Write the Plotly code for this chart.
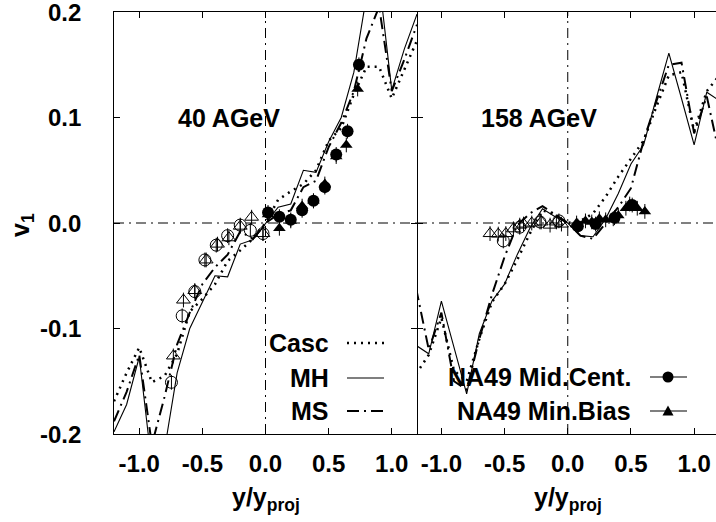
import plotly.graph_objects as go

# ---------------- data ----------------
x_grid = [-1.2, -1.1, -1.0, -0.9, -0.8, -0.7, -0.6, -0.5, -0.4, -0.3, -0.2, -0.1, 0.0,
          0.1, 0.2, 0.3, 0.4, 0.5, 0.6, 0.7, 0.8, 0.9, 1.0, 1.1, 1.2]

# 40 AGeV model curves
casc40 = [-0.169, -0.142, -0.118, -0.151, -0.145, -0.124, -0.084, -0.072, -0.058, -0.036, -0.026, -0.015, 0.0,
          0.022, 0.030, 0.037, 0.050, 0.078, 0.090, 0.122, 0.148, 0.148, 0.118, 0.145, 0.173]
mh40 = [-0.198, -0.172, -0.127, -0.230, -0.215, -0.142, -0.100, -0.075, -0.050, -0.051, -0.020, -0.016, 0.0,
        0.015, 0.018, 0.050, 0.048, 0.077, 0.100, 0.143, 0.215, 0.230, 0.126, 0.165, 0.198]
ms40 = [-0.188, -0.160, -0.125, -0.210, -0.165, -0.115, -0.085, -0.058, -0.042, -0.030, -0.008, -0.015, 0.0,
        0.008, 0.012, 0.034, 0.040, 0.072, 0.095, 0.125, 0.175, 0.205, 0.125, 0.155, 0.188]

# 158 AGeV model curves
casc158 = [-0.143, -0.125, -0.090, -0.140, -0.150, -0.110, -0.075, -0.058, -0.035, -0.010, 0.012, 0.008, 0.0,
           0.002, 0.009, 0.025, 0.044, 0.061, 0.078, 0.110, 0.140, 0.143, 0.087, 0.125, 0.140]
mh158 = [-0.116, -0.124, -0.074, -0.118, -0.162, -0.105, -0.074, -0.058, -0.030, -0.005, 0.0135, 0.006, 0.0,
         -0.012, -0.013, 0.004, 0.028, 0.056, 0.074, 0.118, 0.161, 0.118, 0.074, 0.124, 0.116]
ms158 = [-0.062, -0.120, -0.085, -0.150, -0.158, -0.110, -0.068, -0.032, -0.002, 0.009, 0.016, 0.008, 0.0,
         -0.012, -0.015, 0.000, 0.015, 0.033, 0.078, 0.115, 0.150, 0.152, 0.085, 0.120, 0.065]

# NA49 40 AGeV data (filled: measured, open: reflected)
mc40_x = [0.02, 0.11, 0.20, 0.29, 0.38, 0.47, 0.56, 0.65, 0.74]
mc40_y = [0.010, 0.006, 0.003, 0.012, 0.021, 0.034, 0.065, 0.087, 0.150]
mb40_x = [0.02, 0.11, 0.20, 0.29, 0.38, 0.47, 0.56, 0.64, 0.73]
mb40_y = [0.008, -0.005, 0.002, 0.016, 0.021, 0.037, 0.063, 0.074, 0.127]
mc40r_x = [-0.02, -0.12, -0.20, -0.30, -0.39, -0.48, -0.56, -0.66, -0.745]
mc40r_y = [-0.010, -0.007, -0.002, -0.012, -0.021, -0.035, -0.065, -0.088, -0.151]
mb40r_x = [-0.02, -0.11, -0.20, -0.29, -0.38, -0.47, -0.56, -0.65, -0.73]
mb40r_y = [-0.010, 0.0055, -0.003, -0.014, -0.020, -0.035, -0.064, -0.073, -0.126]

# NA49 158 AGeV data
mc158_x = [0.08, 0.22, 0.37, 0.51]
mc158_y = [-0.003, -0.001, 0.005, 0.017]
mb158_x = [0.07, 0.14, 0.19, 0.25, 0.30, 0.36, 0.40, 0.46, 0.49, 0.55, 0.61]
mb158_y = [0.000, 0.002, 0.001, 0.004, 0.003, 0.004, 0.007, 0.014, 0.018, 0.014, 0.011]
mc158r_x = [-0.07, -0.22, -0.38, -0.51]
mc158r_y = [0.002, 0.001, -0.004, -0.017]
mb158r_x = [-0.05, -0.09, -0.14, -0.21, -0.285, -0.35, -0.38, -0.43, -0.49, -0.55, -0.615]
mb158r_y = [-0.001, 0.001, -0.002, 0.001, 0.000, -0.001, -0.002, -0.0055, -0.010, -0.0105, -0.010]

x_ticks = [-1.0, -0.5, 0.0, 0.5, 1.0]
x_tick_text = ["-1.0", "-0.5", "0.0", "0.5", "1.0"]
y_ticks = [-0.2, -0.1, 0.0, 0.1, 0.2]
y_tick_text = ["-0.2", "-0.1", "0.0", "0.1", "0.2"]

panel_labels = ["40 AGeV", "158 AGeV"]
model_names = ["Casc", "MH", "MS"]
data_names = ["NA49 Mid.Cent.", "NA49 Min.Bias"]

# ---------------- styles ----------------
FONT = "Liberation Sans, Arial, Helvetica, sans-serif"
DOT = "2px,5px"
DASHDOT = "12px,5px,2px,5px"
ZERO_DASH = "10px,5px,2px,5px"
model_styles = {
    "Casc": dict(color="black", width=2.5, dash=DOT),
    "MH": dict(color="black", width=1.1),
    "MS": dict(color="black", width=2, dash=DASHDOT),
}
ERR = 0.007
Y_RANGE = [-0.2, 0.2]

fig = go.Figure()


def add_panel(xa, ya, casc, mh, ms, mcx, mcy, mbx, mby, mcrx, mcry, mbrx, mbry):
    for name, yv in zip(model_names, [casc, mh, ms]):
        fig.add_trace(go.Scatter(x=x_grid, y=yv, mode="lines", line=model_styles[name],
                                 xaxis=xa, yaxis=ya, showlegend=False, hoverinfo="skip"))
    err = dict(type="constant", value=ERR, color="black", thickness=1, width=0)
    fig.add_trace(go.Scatter(x=mcrx, y=mcry, mode="markers", error_y=err,
                             marker=dict(symbol="circle-open", size=12, color="black", line=dict(width=1)),
                             xaxis=xa, yaxis=ya, showlegend=False))
    fig.add_trace(go.Scatter(x=mbrx, y=mbry, mode="markers", error_y=err,
                             marker=dict(symbol="triangle-up-open", size=12, color="black", line=dict(width=1)),
                             xaxis=xa, yaxis=ya, showlegend=False))
    fig.add_trace(go.Scatter(x=mcx, y=mcy, mode="markers", error_y=err,
                             marker=dict(symbol="circle", size=12, color="black"),
                             xaxis=xa, yaxis=ya, showlegend=False))
    fig.add_trace(go.Scatter(x=mbx, y=mby, mode="markers", error_y=err,
                             marker=dict(symbol="triangle-up", size=11, color="black"),
                             xaxis=xa, yaxis=ya, showlegend=False))


add_panel("x", "y", casc40, mh40, ms40, mc40_x, mc40_y, mb40_x, mb40_y, mc40r_x, mc40r_y, mb40r_x, mb40r_y)
add_panel("x2", "y2", casc158, mh158, ms158, mc158_x, mc158_y, mb158_x, mb158_y,
          mc158r_x, mc158r_y, mb158r_x, mb158r_y)

W, H = 716, 522
ML, MR, MT, MB = 114, 0, 12, 88
PW = W - ML - MR
PH = H - MT - MB
split = (417 - ML) / PW


def px(xp):
    return (xp - ML) / PW


def py(yp):
    return (H - MB - yp) / PH


tickfont = dict(family=FONT, size=24, color="black", weight="bold")
common_x = dict(tickvals=x_ticks, ticktext=x_tick_text, ticks="inside", ticklen=6, tickwidth=1.3,
                tickcolor="black", showline=True, linecolor="black", linewidth=1.3, mirror="ticks",
                showgrid=False, zeroline=False, tickfont=tickfont, ticklabelstandoff=8)
common_y = dict(tickvals=y_ticks, ticks="inside", ticklen=6, tickwidth=1.3,
                tickcolor="black", linecolor="black", linewidth=1.3,
                showgrid=False, zeroline=False, showticklabels=False, range=Y_RANGE)

fig.update_layout(
    width=W, height=H,
    margin=dict(l=ML, r=MR, t=MT, b=MB, autoexpand=False),
    paper_bgcolor="white", plot_bgcolor="white",
    xaxis=dict(domain=[0, split], range=[-1.2, 1.2], anchor="y", **common_x),
    yaxis=dict(domain=[0, 1], anchor="x", mirror="ticks", showline=True, **common_y),
    xaxis2=dict(domain=[split, 1], range=[-1.193, 1.173], anchor="y2", **common_x),
    yaxis2=dict(domain=[0, 1], anchor="x2", mirror=False, showline=False, **common_y),
    showlegend=False,
)

shapes = []
annotations = []
zero_line = dict(color="black", width=1, dash=ZERO_DASH)
for xa, ya, rng in [("x", "y", [-1.2, 1.2]), ("x2", "y2", [-1.193, 1.173])]:
    shapes.append(dict(type="line", xref=xa, yref=ya, x0=rng[0], x1=rng[1], y0=0, y1=0, line=zero_line, layer="below"))
    shapes.append(dict(type="line", xref=xa, yref=ya, x0=0, x1=0, y0=Y_RANGE[0], y1=Y_RANGE[1], line=zero_line, layer="below"))

# y tick labels (as text so the top one is not dropped at the figure edge)
for v, t in zip(y_ticks, y_tick_text):
    annotations.append(dict(text=t, x=px(83), y=v, xref="paper", yref="y", xanchor="right", yanchor="middle",
                            showarrow=False, font=tickfont))

big = dict(family=FONT, size=25, color="black", weight="bold")
annotations.append(dict(text=panel_labels[0], x=-0.29, y=0.1, xref="x", yref="y", showarrow=False, font=big))
annotations.append(dict(text=panel_labels[1], x=-0.227, y=0.1, xref="x2", yref="y2", showarrow=False, font=big))

# axis titles
annotations.append(dict(text="v<sub>1</sub>", x=px(22), y=py(225), xref="paper", yref="paper", textangle=-90,
                        showarrow=False, font=big, xanchor="center", yanchor="middle"))
for xa in ["x", "x2"]:
    annotations.append(dict(text="y/y<sub>proj</sub>", x=0, y=py(499), xref=xa, yref="paper",
                            showarrow=False, font=big, xanchor="center", yanchor="middle"))

# legend: models
leg_y = [343, 378, 411]
for name, yp in zip(model_names, leg_y):
    annotations.append(dict(text=name, x=px(331), y=py(yp), xref="paper", yref="paper", xanchor="right",
                            yanchor="middle", showarrow=False, font=big))
    shapes.append(dict(type="line", xref="paper", yref="paper", x0=px(347), x1=px(384), y0=py(yp), y1=py(yp),
                       line=model_styles[name]))

# legend: data
leg_y2 = [377, 411]
for name, yp, kind in zip(data_names, leg_y2, ["circle", "triangle"]):
    annotations.append(dict(text=name, x=px(633), y=py(yp), xref="paper", yref="paper", xanchor="right",
                            yanchor="middle", showarrow=False, font=big))
    shapes.append(dict(type="line", xref="paper", yref="paper", x0=px(650), x1=px(687), y0=py(yp), y1=py(yp),
                       line=dict(color="black", width=1.1)))
    cx, cy = 668, yp
    if kind == "circle":
        shapes.append(dict(type="circle", xref="paper", yref="paper", x0=px(cx - 5.5), x1=px(cx + 5.5),
                           y0=py(cy + 5.5), y1=py(cy - 5.5), fillcolor="black", line=dict(color="black", width=0)))
    else:
        path = "M {} {} L {} {} L {} {} Z".format(px(cx - 5.5), py(cy + 4.5), px(cx + 5.5), py(cy + 4.5),
                                                  px(cx), py(cy - 5.5))
        shapes.append(dict(type="path", xref="paper", yref="paper", path=path, fillcolor="black",
                           line=dict(color="black", width=0)))

fig.update_layout(shapes=shapes, annotations=annotations)
fig.write_html("out.html", config={"displayModeBar": False},
               post_script="document.body.style.margin='0px';")
